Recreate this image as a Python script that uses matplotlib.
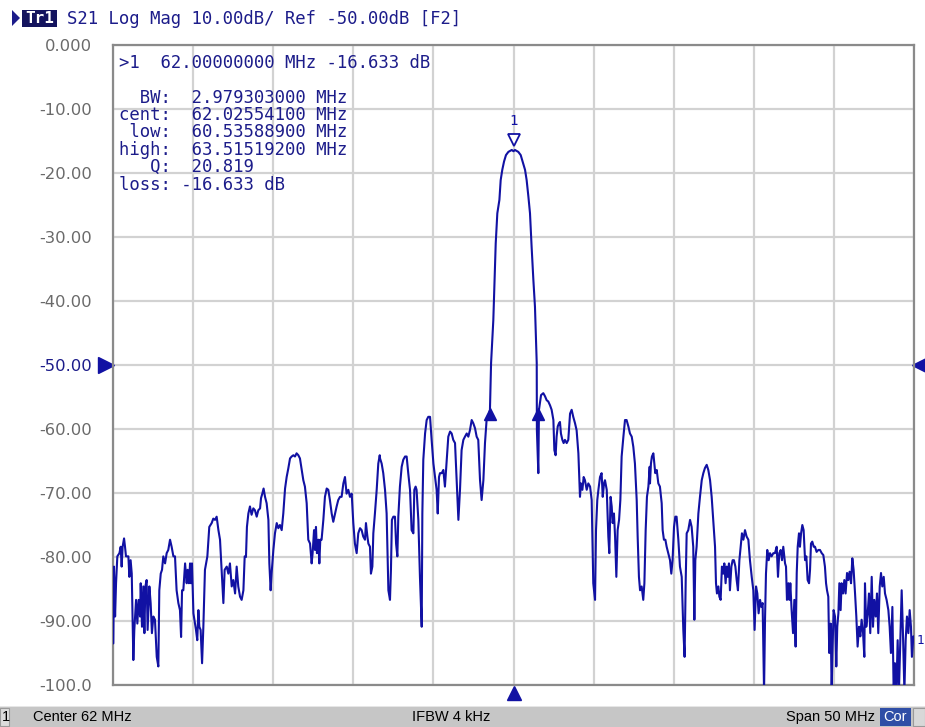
import matplotlib
matplotlib.use("Agg")
import matplotlib.pyplot as plt
import matplotlib.transforms as mtransforms
from matplotlib.patches import Rectangle, Polygon

# ---------------- data ----------------
center_mhz = 62.0
span_mhz = 50.0
ref_level_db = -50.0
db_per_div = 10.0

y_ticks = [0, -10, -20, -30, -40, -50, -60, -70, -80, -90, -100]
y_tick_labels = ["0.000", "-10.00", "-20.00", "-30.00", "-40.00", "-50.00",
                 "-60.00", "-70.00", "-80.00", "-90.00", "-100.0"]

freq_mhz = [
    # 37 - 45 MHz
    37.00, 37.02, 37.06, 37.13, 37.19, 37.27, 37.40, 37.48, 37.54, 37.60,
    37.69, 37.75, 37.81, 37.96, 38.02, 38.10, 38.17, 38.27, 38.33, 38.44,
    38.52, 38.60, 38.69, 38.73, 38.81, 38.89, 38.96, 39.02, 39.10, 39.16,
    39.27, 39.35, 39.43, 39.52, 39.62, 39.73, 39.83, 39.89, 39.98, 40.06,
    40.14, 40.25, 40.35, 40.45, 40.56, 40.66, 40.77, 40.87, 40.97, 41.08,
    41.18, 41.25, 41.31, 41.39, 41.50, 41.60, 41.66, 41.74, 41.81, 41.87,
    41.93, 42.02, 42.12, 42.18, 42.26, 42.33, 42.39, 42.47, 42.56, 42.64,
    42.74, 42.89, 43.01, 43.16, 43.26, 43.37, 43.47, 43.58, 43.68, 43.78,
    43.89, 43.97, 44.10, 44.20, 44.30, 44.41, 44.51, 44.62, 44.72, 44.82,
    44.93, 45.03, 45.14, 45.22,
    # 45 - 53.7 MHz
    45.30, 45.36, 45.45, 45.55, 45.65, 45.76, 45.86, 45.97, 46.07, 46.18,
    46.24, 46.32, 46.40, 46.49, 46.59, 46.70, 46.76, 46.84, 46.90, 47.01,
    47.11, 47.22, 47.32, 47.42, 47.53, 47.63, 47.74, 47.84, 47.94, 48.05,
    48.15, 48.26, 48.36, 48.46, 48.57, 48.67, 48.78, 48.88, 48.98, 49.09,
    49.19, 49.30, 49.40, 49.46, 49.55, 49.61, 49.67, 49.73, 49.82, 49.88,
    49.94, 50.02, 50.13, 50.23, 50.34, 50.44, 50.54, 50.65, 50.75, 50.86,
    50.96, 51.06, 51.17, 51.27, 51.38, 51.48, 51.58, 51.69, 51.79, 51.90,
    52.00, 52.10, 52.21, 52.31, 52.42, 52.52, 52.62, 52.73, 52.79, 52.88,
    52.94, 53.04, 53.10, 53.19, 53.25, 53.35, 53.46, 53.56, 53.65,
    # 53.7 - 60.5 MHz
    53.67, 53.77, 53.87, 53.98, 54.08, 54.19, 54.29, 54.35, 54.41, 54.50,
    54.60, 54.67, 54.75, 54.81, 54.91, 55.02, 55.12, 55.23, 55.33, 55.43,
    55.54, 55.64, 55.75, 55.81, 55.89, 55.95, 56.06, 56.16, 56.27, 56.31,
    56.37, 56.48, 56.58, 56.68, 56.79, 56.89, 57.00, 57.10, 57.20, 57.27,
    57.35, 57.41, 57.52, 57.62, 57.72, 57.83, 57.93, 58.04, 58.14, 58.24,
    58.35, 58.45, 58.56, 58.66, 58.76, 58.87, 58.97, 59.08, 59.18, 59.28,
    59.39, 59.49, 59.60, 59.70, 59.80, 59.91, 60.01, 60.12, 60.22, 60.32,
    60.43, 60.53,
    # main lobe
    60.60, 60.74, 60.80, 60.89, 60.99, 61.12, 61.20, 61.30, 61.41, 61.53,
    61.68, 61.89, 62.00, 62.09, 62.30, 62.45, 62.57, 62.72, 62.82, 62.93,
    63.03, 63.13, 63.24, 63.34, 63.45,
    # 63.5 - 70.5 MHz
    63.46, 63.55, 63.59, 63.72, 63.86, 63.97, 64.07, 64.17, 64.28, 64.38,
    64.49, 64.55, 64.63, 64.69, 64.76, 64.84, 64.90, 64.96, 65.05, 65.13,
    65.21, 65.32, 65.42, 65.53, 65.63, 65.73, 65.84, 65.94, 66.05, 66.15,
    66.21, 66.30, 66.38, 66.46, 66.57, 66.67, 66.78, 66.88, 66.98, 67.09,
    67.15, 67.23, 67.30, 67.40, 67.50, 67.57, 67.65, 67.71, 67.82, 67.92,
    67.98, 68.06, 68.13, 68.19, 68.27, 68.34, 68.42, 68.50, 68.59, 68.67,
    68.75, 68.86, 68.96, 69.06, 69.17, 69.27, 69.38, 69.48, 69.58, 69.69,
    69.75, 69.83, 69.90, 70.00, 70.10, 70.17, 70.25, 70.33, 70.42, 70.50,
    # 70.5 - 78.9 MHz
    70.52, 70.58, 70.64, 70.73, 70.79, 70.85, 70.94, 71.04, 71.14, 71.25,
    71.31, 71.39, 71.48, 71.56, 71.66, 71.77, 71.85, 71.93, 72.02, 72.10,
    72.18, 72.29, 72.39, 72.50, 72.60, 72.68, 72.75, 72.81, 72.91, 73.02,
    73.12, 73.22, 73.29, 73.35, 73.43, 73.54, 73.64, 73.75, 73.85, 73.95,
    74.06, 74.16, 74.27, 74.37, 74.47, 74.58, 74.64, 74.70, 74.79, 74.85,
    74.93, 75.01, 75.10, 75.16, 75.24, 75.31, 75.37, 75.45, 75.51, 75.60,
    75.68, 75.76, 75.85, 75.93, 76.01, 76.10, 76.18, 76.26, 76.35, 76.45,
    76.55, 76.66, 76.76, 76.87, 76.97, 77.05, 77.14, 77.22, 77.30, 77.39,
    77.47, 77.55, 77.64, 77.70, 77.76, 77.84, 77.93, 78.01, 78.11, 78.22,
    78.32, 78.43, 78.51, 78.59, 78.68, 78.76, 78.84,
    # 78.9 - 87 MHz
    78.95, 79.01, 79.07, 79.16, 79.22, 79.28, 79.36, 79.45, 79.53, 79.61,
    79.68, 79.74, 79.82, 79.88, 79.95, 80.03, 80.11, 80.20, 80.28, 80.36,
    80.45, 80.51, 80.57, 80.65, 80.74, 80.82, 80.92, 81.03, 81.13, 81.24,
    81.34, 81.44, 81.51, 81.57, 81.65, 81.71, 81.80, 81.86, 81.92, 81.98,
    82.07, 82.15, 82.21, 82.28, 82.34, 82.42, 82.48, 82.57, 82.65, 82.73,
    82.82, 82.90, 82.98, 83.07, 83.15, 83.23, 83.32, 83.40, 83.48, 83.57,
    83.65, 83.73, 83.82, 83.90, 83.94, 84.02, 84.11, 84.19, 84.27, 84.36,
    84.44, 84.52, 84.61, 84.69, 84.77, 84.86, 84.94, 85.02, 85.11, 85.19,
    85.29, 85.40, 85.48, 85.56, 85.65, 85.73, 85.81, 85.90, 85.98, 86.06,
    86.15, 86.23, 86.31, 86.40, 86.48, 86.56, 86.65, 86.73, 86.81, 86.87,
    86.96, 87.00,
]

s21_db = [
    # 37 - 45 MHz
    -93.5, -93.5, -81.5, -89.3, -84.1, -79.9, -79.4, -78.4, -81.5, -78.4,
    -77.1, -78.4, -79.9, -79.9, -83.1, -80.5, -82.6, -96.1, -91.4, -86.7,
    -90.4, -86.7, -89.3, -84.1, -90.9, -84.6, -91.9, -84.6, -83.6, -91.4,
    -84.6, -87.2, -91.9, -89.3, -89.8, -95.6, -97.1, -85.2, -82.6, -82.0,
    -79.9, -81.0, -79.4, -78.9, -77.3, -78.4, -79.9, -79.9, -85.2, -87.2,
    -88.3, -92.5, -85.2, -85.2, -81.0, -84.1, -82.0, -84.1, -81.0, -84.1,
    -81.0, -88.8, -90.4, -91.4, -93.0, -88.3, -90.9, -91.4, -96.6, -90.9,
    -82.0, -79.9, -75.3, -74.7, -74.0, -74.2, -73.7, -75.8, -77.3, -82.0,
    -87.2, -82.0, -81.5, -82.6, -81.0, -84.6, -83.6, -85.7, -81.5, -84.6,
    -86.2, -86.7, -85.2, -79.9,
    # 45 - 53.7 MHz
    -80.0, -75.3, -73.2, -72.1, -73.4, -72.4, -72.7, -73.7, -72.7, -72.4,
    -70.8, -70.1, -69.3, -70.6, -71.6, -74.2, -81.0, -85.2, -82.6, -78.9,
    -76.3, -74.7, -75.5, -75.0, -75.8, -73.2, -69.3, -67.5, -66.2, -64.6,
    -64.3, -64.1, -64.3, -63.8, -64.1, -64.6, -66.4, -68.0, -69.0, -71.6,
    -77.3, -77.9, -81.0, -79.4, -75.8, -78.9, -75.3, -79.4, -77.3, -81.0,
    -77.3, -77.3, -74.2, -70.6, -69.3, -69.5, -71.1, -73.2, -74.5, -73.2,
    -72.1, -71.1, -70.6, -70.6, -68.5, -67.5, -70.1, -69.5, -70.6, -70.1,
    -74.7, -77.9, -79.4, -76.3, -75.5, -75.8, -76.8, -77.3, -74.7, -76.8,
    -77.9, -78.4, -82.6, -81.5, -76.3, -73.2, -69.5, -65.4, -64.1,
    # 53.7 - 60.5 MHz
    -64.6, -65.4, -66.9, -69.5, -73.2, -85.2, -86.7, -82.0, -74.2, -73.7,
    -73.7, -77.9, -79.9, -73.7, -69.0, -65.9, -64.8, -64.3, -64.3, -66.9,
    -69.5, -75.8, -76.3, -69.5, -69.0, -69.5, -74.2, -83.1, -90.9, -73.2,
    -64.8, -60.7, -58.6, -58.1, -58.1, -61.7, -65.4, -67.5, -69.5, -73.2,
    -67.5, -66.9, -66.9, -66.4, -69.0, -64.8, -61.2, -60.4, -60.7, -61.7,
    -62.2, -68.0, -74.2, -69.5, -63.3, -61.7, -61.2, -60.7, -61.2, -60.2,
    -58.6, -59.1, -59.9, -61.2, -61.7, -68.0, -71.1, -68.0, -62.2, -58.6,
    -58.1, -57.0,
    # main lobe
    -49.7, -43.0, -38.3, -31.0, -26.3, -24.2, -21.1, -19.5, -18.2, -17.2,
    -16.7, -16.4, -16.6, -16.4, -16.7, -17.2, -18.2, -19.5, -21.1, -23.7,
    -26.3, -31.5, -36.7, -40.9, -49.7,
    # 63.5 - 70.5 MHz
    -60.2, -66.9, -57.0, -54.7, -54.4, -54.9, -55.5, -55.7, -56.3, -57.0,
    -58.6, -63.3, -64.1, -61.2, -59.6, -59.1, -58.9, -60.7, -61.7, -62.2,
    -61.7, -62.2, -61.7, -57.6, -57.0, -58.1, -59.1, -60.2, -63.8, -70.6,
    -68.5, -69.5, -67.5, -68.0, -69.5, -68.5, -69.0, -71.1, -84.1, -86.7,
    -75.8, -71.1, -69.5, -67.5, -66.9, -70.6, -68.5, -68.0, -69.5, -76.8,
    -79.4, -70.6, -72.1, -74.7, -73.2, -76.8, -83.1, -75.8, -74.2, -71.1,
    -64.3, -61.2, -58.6, -58.6, -59.6, -60.7, -61.2, -62.8, -65.4, -71.1,
    -76.8, -83.1, -85.2, -84.6, -86.7, -84.1, -75.8, -70.6, -69.0, -65.9,
    # 70.5 - 78.9 MHz
    -68.5, -65.4, -64.3, -63.8, -65.4, -66.9, -66.4, -68.5, -69.0, -71.6,
    -75.8, -77.3, -77.3, -78.4, -79.4, -80.5, -82.6, -80.5, -75.3, -73.7,
    -73.7, -77.3, -81.5, -83.1, -91.4, -95.6, -83.6, -76.3, -75.8, -74.2,
    -75.3, -78.4, -89.8, -80.5, -78.4, -73.2, -70.6, -68.0, -66.9, -66.1,
    -65.6, -66.4, -68.0, -70.6, -74.2, -78.4, -84.1, -85.7, -84.6, -86.2,
    -86.7, -81.5, -82.6, -81.0, -84.1, -81.5, -83.1, -81.0, -85.2, -81.5,
    -80.5, -80.5, -81.5, -83.6, -85.2, -80.5, -78.4, -76.3, -77.3, -75.8,
    -76.8, -77.3, -80.5, -83.1, -85.2, -91.4, -84.6, -85.7, -88.8, -86.7,
    -87.8, -87.2, -101.0, -89.8, -82.6, -78.9, -80.5, -79.4, -79.9, -79.4,
    -79.4, -78.4, -83.1, -79.4, -78.9, -80.5, -78.4,
    # 78.9 - 87 MHz
    -81.0, -81.5, -86.7, -84.1, -86.7, -84.1, -88.3, -91.9, -86.7, -94.0,
    -82.5, -78.4, -76.3, -78.4, -76.3, -75.0, -75.8, -80.5, -79.9, -83.6,
    -84.1, -82.0, -77.9, -77.6, -78.4, -78.4, -79.2, -78.9, -78.9, -79.4,
    -79.7, -81.5, -84.1, -85.2, -86.2, -95.0, -90.4, -101.0, -94.0, -88.3,
    -89.3, -97.1, -90.9, -88.8, -84.1, -88.3, -84.1, -85.7, -83.6, -85.7,
    -82.5, -83.6, -82.3, -84.1, -80.2, -82.0, -85.7, -89.3, -94.0, -90.9,
    -92.4, -89.8, -91.9, -95.6, -84.1, -90.9, -88.8, -85.7, -91.9, -83.1,
    -90.9, -86.7, -89.3, -85.7, -91.9, -84.6, -82.5, -84.6, -83.1, -85.7,
    -86.7, -88.3, -90.9, -95.0, -87.8, -101.0, -96.6, -101.0, -93.0, -101.0,
    -92.4, -85.2, -91.9, -101.0, -93.0, -89.3, -91.9, -88.3, -90.9, -95.6,
    -92.4, -92.4,
]

marker1_freq = 62.0
marker1_db = -16.633
bw_marker_freqs = [60.53588900, 63.51519200]
bw_marker_db = -57.6

header_text = "S21 Log Mag 10.00dB/ Ref -50.00dB [F2]"
marker_line = ">1  62.00000000 MHz -16.633 dB"
bw_lines = [
    "  BW:  2.979303000 MHz",
    "cent:  62.02554100 MHz",
    " low:  60.53588900 MHz",
    "high:  63.51519200 MHz",
    "   Q:  20.819",
]
loss_line = "loss: -16.633 dB"

# ---------------- styling ----------------
W, H = 925, 727
NAVY = "#1c1c8a"
TRACE = "#1111a3"
GRID = "#d2d2d2"
MONO = ["DejaVu Sans Mono"]
MONO_SIZE = 12.4

fig = plt.figure(figsize=(W / 100, H / 100), dpi=100)
fig.patch.set_facecolor("white")


def fx(x):
    return x / W


def fy(y):
    return 1 - y / H


ax_l, ax_r, ax_t, ax_b = 113, 914, 45, 685
ax = fig.add_axes([fx(ax_l), fy(ax_b), (ax_r - ax_l) / W, (ax_b - ax_t) / H])

f_start = center_mhz - span_mhz / 2
f_stop = center_mhz + span_mhz / 2
ax.set_xlim(f_start, f_stop)
ax.set_ylim(ref_level_db - 5 * db_per_div, ref_level_db + 5 * db_per_div)

ax.set_xticks([f_start + i * span_mhz / 10 for i in range(11)])
ax.set_xticklabels([])
ax.set_yticks(y_ticks)
ax.set_yticklabels(y_tick_labels)
ax.tick_params(axis="both", length=0)
ax.tick_params(axis="y", pad=15, labelsize=11.8, labelcolor="#6a6a6a")
for lab in ax.get_yticklabels():
    lab.set_fontfamily("DejaVu Sans")
    if lab.get_text() == "-50.00":
        lab.set_color(NAVY)

ax.grid(True, color=GRID, linewidth=1.6)
ax.set_axisbelow(True)
for sp in ax.spines.values():
    sp.set_color("#8a8a8a")
    sp.set_linewidth(1.6)

ax.plot(freq_mhz, s21_db, color=TRACE, linewidth=1.5, zorder=3)

# marker 1 at peak (outlined triangle above the point)
off_up = mtransforms.offset_copy(ax.transData, fig=fig, x=0, y=11, units="dots")
ax.plot([marker1_freq], [marker1_db], marker="v", markersize=9,
        markerfacecolor="white", markeredgecolor=TRACE, markeredgewidth=1.3,
        transform=off_up, zorder=5, clip_on=False)
off_lbl = mtransforms.offset_copy(ax.transData, fig=fig, x=0, y=23, units="dots")
ax.text(marker1_freq, marker1_db, "1", transform=off_lbl, ha="center",
        va="bottom", fontsize=10, color=TRACE, family=MONO, zorder=5)

# bandwidth markers
ax.plot(bw_marker_freqs, [bw_marker_db] * 2, linestyle="none", marker="^",
        markersize=9, color=TRACE, zorder=5)

# reference level arrows and stimulus centre arrow
bt = mtransforms.blended_transform_factory(ax.transAxes, ax.transData)
ax.plot([-0.009], [ref_level_db], marker=">", markersize=12, color=TRACE,
        transform=bt, clip_on=False, linestyle="none")
ax.plot([1.008], [ref_level_db], marker="<", markersize=12, color=TRACE,
        transform=bt, clip_on=False, linestyle="none")
bt2 = mtransforms.blended_transform_factory(ax.transData, ax.transAxes)
ax.plot([center_mhz], [-0.012], marker="^", markersize=10, color=TRACE,
        transform=bt2, clip_on=False, linestyle="none")

# marker readouts inside plot
fig.text(fx(119), fy(63), marker_line, family=MONO, fontsize=MONO_SIZE,
         color=NAVY, va="center", ha="left")
for i, line in enumerate(bw_lines):
    fig.text(fx(119), fy(98 + i * 17.2), line, family=MONO, fontsize=MONO_SIZE,
             color=NAVY, va="center", ha="left")
fig.text(fx(119), fy(185), loss_line, family=MONO, fontsize=MONO_SIZE,
         color=NAVY, va="center", ha="left")

# header
fig.patches.append(Polygon([[fx(12), fy(10)], [fx(20), fy(18)], [fx(12), fy(26)]],
                           closed=True, transform=fig.transFigure,
                           facecolor=NAVY, edgecolor="none"))
fig.patches.append(Rectangle((fx(22), fy(27)), (57 - 22) / W, 17 / H,
                             transform=fig.transFigure, facecolor="#14145e",
                             edgecolor="none"))
fig.text(fx(39.5), fy(18.5), "Tr1", family=MONO, fontsize=11.5,
         fontweight="bold", color="white", ha="center", va="center")
fig.text(fx(67), fy(18.5), header_text, family=MONO, fontsize=MONO_SIZE,
         color=NAVY, ha="left", va="center")

# trace end indicator
fig.text(fx(917), fy(640), "1", family=MONO, fontsize=9, color=TRACE,
         ha="left", va="center")

# status bar
fig.patches.append(Rectangle((0, 0), 1, 20 / H, transform=fig.transFigure,
                             facecolor="#c6c6c6", edgecolor="none"))
fig.patches.append(Rectangle((0, 20 / H), 1, 1.5 / H, transform=fig.transFigure,
                             facecolor="#e6e6e6", edgecolor="none"))
fig.patches.append(Rectangle((0, 1 / H), 9 / W, 18 / H, transform=fig.transFigure,
                             facecolor="#dcdcdc", edgecolor="#9a9a9a", linewidth=0.8))
fig.patches.append(Rectangle((fx(880), 1 / H), 31 / W, 18 / H,
                             transform=fig.transFigure, facecolor="#2f4ea6",
                             edgecolor="none"))
fig.patches.append(Rectangle((fx(913), 1 / H), 12 / W, 18 / H,
                             transform=fig.transFigure, facecolor="#d8d8d8",
                             edgecolor="#9a9a9a", linewidth=0.8))
SB = ["Liberation Sans Narrow", "Liberation Sans", "DejaVu Sans"]
fig.text(fx(2), fy(717), "1", family=SB, fontsize=10.5, color="black",
         ha="left", va="center")
fig.text(fx(33), fy(717), "Center 62 MHz", family=SB, fontsize=10.5,
         color="black", ha="left", va="center")
fig.text(fx(412), fy(717), "IFBW 4 kHz", family=SB, fontsize=10.5,
         color="black", ha="left", va="center")
fig.text(fx(875), fy(717), "Span 50 MHz", family=SB, fontsize=10.5,
         color="black", ha="right", va="center")
fig.text(fx(895.5), fy(717), "Cor", family=SB, fontsize=10.5,
         color="white", ha="center", va="center")

fig.savefig("out.png", dpi=100, facecolor="white")
